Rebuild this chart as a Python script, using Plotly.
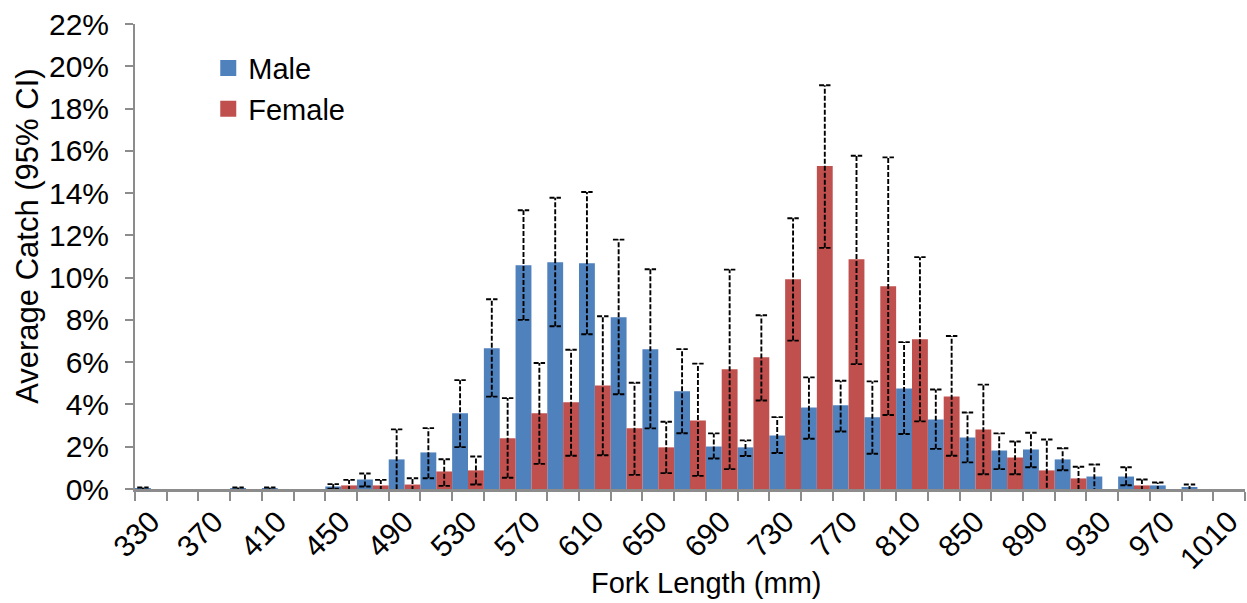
import plotly.graph_objects as go

# Fork length bins (mm), bin centres
fork_length = list(range(330, 1011, 20))

# Average catch (%) by sex, with 95% CI bounds (None = no interval drawn)
male = [0.02, 0, 0, 0.02, 0.02, 0, 0.12, 0.45, 1.40, 1.73, 3.58, 6.66, 10.59, 10.73,
        10.68, 8.12, 6.61, 4.62, 2.01, 1.97, 2.53, 3.86, 3.96, 3.39, 4.76, 3.29,
        2.44, 1.82, 1.87, 1.40, 0.59, 0.59, 0.17, 0.07, 0]
male_upper = [0.07, None, None, 0.07, 0.07, None, 0.23, 0.73, 2.82, 2.88, 5.15, 8.98,
              13.19, 13.78, 14.05, 11.80, 10.40, 6.62, 2.63, 2.30, 3.40, 5.28, 5.12,
              5.09, 6.95, 4.71, 3.62, 2.63, 2.66, 1.93, 1.16, 1.03, 0.31, 0.21, None]
male_lower = [-0.05, None, None, -0.05, -0.05, None, 0.01, 0.12, -1.0, 0.51, 1.98, 4.37,
              8.00, 7.70, 7.32, 4.48, 2.87, 2.64, 1.44, 1.56, 1.70, 2.38, 2.72, 1.67,
              2.60, 1.90, 1.26, 0.94, 1.03, 0.89, -0.2, 0.18, -0.1, -0.1, None]

female = [0, 0, 0, 0, 0, 0, 0.17, 0.17, 0.21, 0.83, 0.88, 2.40, 3.58, 4.11, 4.90, 2.88,
          1.97, 3.24, 5.66, 6.23, 9.92, 15.28, 10.87, 9.59, 7.08, 4.38, 2.82, 1.49,
          0.88, 0.50, 0, 0.17, 0, 0, 0]
female_upper = [None, None, None, None, None, None, 0.43, 0.43, 0.51, 1.41, 1.54, 4.30,
                5.96, 6.59, 8.17, 5.03, 3.18, 5.93, 10.38, 8.22, 12.81, 19.10, 15.77,
                15.69, 10.97, 7.24, 4.94, 2.25, 2.34, 1.05, None, 0.45, None, None, None]
female_lower = [None, None, None, None, None, None, -0.1, -0.1, -0.1, 0.15, 0.21, 0.53,
                1.19, 1.57, 1.60, 0.67, 0.75, 0.62, 0.94, 4.19, 7.02, 11.41, 5.91, 3.50,
                3.20, 1.57, 0.70, 0.70, -0.6, -0.05, None, -0.1, None, None, None]

tick_labels = list(range(330, 1011, 40))
y_ticks = list(range(0, 23, 2))

BLUE = "#4F81BD"
RED = "#C0504D"
FONT = "Liberation Sans, Arial, sans-serif"
BIN = 20
HALF = BIN / 2
CAP = 3.6


def ci_path(centres, lower, upper):
    """Dashed CI whiskers: vertical segment plus top/bottom caps."""
    xs, ys = [], []
    for c, lo, hi in zip(centres, lower, upper):
        if lo is None or hi is None:
            continue
        xs += [c, c, None, c - CAP, c + CAP, None]
        ys += [lo, hi, None, hi, hi, None]
        if lo > 0:
            xs += [c - CAP, c + CAP, None]
            ys += [lo, lo, None]
    return xs, ys


fig = go.Figure()
fig.add_trace(go.Bar(x=fork_length, y=male, width=HALF, offset=-HALF, name="Male",
                     showlegend=False, marker=dict(color=BLUE, line=dict(width=0))))
fig.add_trace(go.Bar(x=fork_length, y=female, width=HALF, offset=0, name="Female",
                     showlegend=False, marker=dict(color=RED, line=dict(width=0))))

for centres, lo, hi in [([c - HALF / 2 for c in fork_length], male_lower, male_upper),
                        ([c + HALF / 2 for c in fork_length], female_lower, female_upper)]:
    xs, ys = ci_path(centres, lo, hi)
    fig.add_trace(go.Scatter(x=xs, y=ys, mode="lines", showlegend=False, hoverinfo="skip",
                             line=dict(color="black", width=1.9, dash="5px,2px")))

# legend keys with larger square swatches
for name, colour in [("Male", BLUE), ("Female", RED)]:
    fig.add_trace(go.Scatter(x=[None], y=[None], mode="markers", name=name,
                             marker=dict(symbol="square", size=16, color=colour)))

axis_grey = "#8C8C8C"
fig.update_layout(
    width=1247, height=603,
    margin=dict(l=135, r=2, t=24, b=114),
    paper_bgcolor="white", plot_bgcolor="white",
    font=dict(family=FONT, size=30, color="black"),
    barmode="overlay",
    legend=dict(x=0.066, y=0.96, xanchor="left", yanchor="top",
                font=dict(size=29), bgcolor="rgba(0,0,0,0)", tracegroupgap=0,
                itemsizing="trace"),
    xaxis=dict(
        range=[fork_length[0] - HALF, fork_length[-1] + HALF],
        tickmode="array", tickvals=tick_labels, ticktext=[str(v) for v in tick_labels],
        tickangle=-45, ticks="", showgrid=False, zeroline=False,
        showline=True, linecolor=axis_grey, linewidth=3,
        minor=dict(tickmode="linear", tick0=fork_length[0] - HALF, dtick=BIN,
                   ticks="outside", ticklen=9, tickwidth=2, tickcolor=axis_grey,
                   showgrid=False),
        automargin=False,
    ),
    yaxis=dict(
        range=[0, 22], tickmode="array", tickvals=y_ticks,
        ticktext=[f"{v}%" for v in y_ticks],
        ticks="outside", ticklen=8, tickwidth=2, tickcolor=axis_grey,
        ticklabelstandoff=10,
        showgrid=False, zeroline=False,
        showline=True, linecolor=axis_grey, linewidth=2,
        automargin=False,
    ),
    annotations=[
        dict(text="Fork Length (mm)", xref="paper", yref="paper", x=0.514, y=-0.202,
             xanchor="center", yanchor="middle", showarrow=False, font=dict(size=29)),
        dict(text="Average Catch (95% CI)", xref="paper", yref="paper", x=-0.097, y=0.543,
             xanchor="center", yanchor="middle", textangle=-90, showarrow=False,
             font=dict(size=31)),
    ],
)

fig.write_html("out.html")
